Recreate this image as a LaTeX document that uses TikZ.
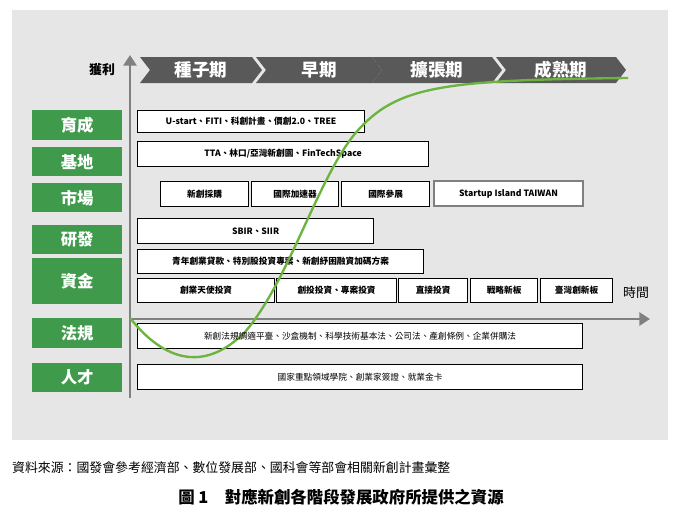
\documentclass[tikz,border=0pt]{standalone}
\usepackage{fontspec}
\setmainfont{Noto Sans CJK TC}
\usetikzlibrary{arrows.meta}
\definecolor{panelgray}{HTML}{E6E6E6}
\definecolor{labelgreen}{HTML}{3F9A4B}
\definecolor{curvegreen}{HTML}{6CB33F}
\definecolor{axisgray}{HTML}{808080}
\definecolor{stagegray}{HTML}{595959}
\tikzset{
  sector/.style={fill=labelgreen, text=white, font=\fontsize{14}{14}\selectfont\bfseries, inner sep=0pt},
  resource/.style={draw=black, line width=1pt, fill=white, inner sep=0pt},
  restext/.style={font=\fontsize{7.4}{8}\selectfont\bfseries},
  lawtext/.style={font=\fontsize{7.4}{8}\selectfont},
  stage/.style={fill=stagegray, draw=none},
  axis/.style={draw=axisgray, line width=2.4pt, -{Triangle[length=9pt,width=11pt]}}
}
\newcommand{\boxat}[6]{% style, name, x1, y1, x2, y2
  \node[#1, minimum width={(#5-#3)*0.03cm}, minimum height={(#6-#4)*0.03cm}, anchor=north west] (#2) at (#3,#4) {};}
\begin{document}
\begin{tikzpicture}[x=0.03cm, y=-0.03cm]
  \useasboundingbox (0,0) rectangle (683,519);
  \fill[panelgray] (12,10) rectangle (668,440);

  % stages
  \foreach \xa/\xb/\txt/\nm in {140/252/種子期/seed, 256/372/早期/early, 372/492/擴張期/growth, 496/616/成熟期/mature}{
    \fill[stage] (\xa,57) -- (\xb,57) -- (\xb+10,70) -- (\xb,83) -- (\xa,83) -- (\xa+10,70) -- cycle;
    \node[text=white, font=\fontsize{15}{15}\selectfont\bfseries] (\nm) at ({(\xa+\xb)/2+5},70) {\txt};
  }

  % axes
  \coordinate (origin) at (130,398);
  \coordinate (ytop) at (130,55);
  \coordinate (xstart) at (130,319);
  \coordinate (xend) at (650,319);
  \draw[axis] (origin) -- (ytop);
  \draw[axis] (xstart) -- (xend);
  \node[font=\fontsize{11}{11}\selectfont\bfseries] (profit) at (102,70) {獲利};
  \node[font=\fontsize{11}{11}\selectfont] (time) at (636,293) {時間};

  % sectors
  \foreach \ya/\yb/\txt/\nm in {110/140/育成/incub, 147/176/基地/base, 183/212/市場/market, 225/254/研發/rnd, 258/304/資金/fund, 318/348/法規/law, 363/392/人才/talent}{
    \node[sector, minimum width=2.7cm, minimum height={(\yb-\ya)*0.03cm}, anchor=north west] (\nm) at (32,\ya) {\txt};
  }

  % resources
  \boxat{resource}{ustart}{137}{110}{364}{132}
  \node[restext] at (ustart) {U-start、FITI、科創計畫、價創2.0、TREE};
  \boxat{resource}{tta}{137}{141}{428}{166}
  \node[restext] at (tta) {TTA、林口/亞灣新創園、FinTechSpace};
  \boxat{resource}{procure}{160}{181}{248}{206}
  \node[restext] at (procure) {新創採購};
  \boxat{resource}{accel}{251}{181}{338}{206}
  \node[restext] at (accel) {國際加速器};
  \boxat{resource}{expo}{341}{181}{429}{206}
  \boxat{resource}{sbir}{137}{218}{373}{243}
  \node[restext] at (sbir) {SBIR、SIIR};
  \boxat{resource}{loan}{137}{249}{423}{273}
  \node[restext] at (loan) {青年創業貸款、特別股投資專案、新創紓困融資加碼方案};
  \boxat{resource}{angel}{137}{278}{274}{302}
  \node[restext] at (angel) {創業天使投資};
  \boxat{resource}{vc}{276}{278}{396}{302}
  \boxat{resource}{direct}{398}{278}{467}{302}
  \node[restext] at (direct) {直接投資};
  \boxat{resource}{strategic}{470}{278}{537}{302}
  \node[restext] at (strategic) {戰略新板};
  \boxat{resource}{tib}{540}{278}{612}{302}
  \node[restext] at (tib) {臺灣創新板};
  \boxat{resource}{regul}{137}{323}{582}{348}
  \boxat{resource}{academy}{137}{364}{582}{389}
  \node[lawtext] at (academy) {國家重點領域學院、創業家簽證、就業金卡};

  % growth curve
  \draw[curvegreen, line width=2pt] (130,318) .. controls (165,362) and (205,372) .. (245,332)
    .. controls (290,280) and (320,170) .. (360,128)
    .. controls (400,85) and (450,80) .. (628,78);

  % labels over the curve
  \node[restext] at (vc) {創投投資、專案投資};
  \node[restext] at (expo) {國際參展};
  \node[lawtext] at (regul) {新創法規調適平臺、沙盒機制、科學技術基本法、公司法、產創條例、企業併購法};
  \node[draw=gray, line width=1pt, fill=white, restext, minimum width=4.47cm, minimum height=0.75cm] (island) at (508.5,193.5) {Startup Island TAIWAN};

  % caption
  \node[anchor=west, font=\fontsize{11}{11}\selectfont] (source) at (8,468) {資料來源：國發會參考經濟部、數位發展部、國科會等部會相關新創計畫彙整};
  \node[font=\fontsize{14}{14}\selectfont\bfseries] (title) at (341,497) {圖 1\quad 對應新創各階段發展政府所提供之資源};
\end{tikzpicture}
\end{document}
